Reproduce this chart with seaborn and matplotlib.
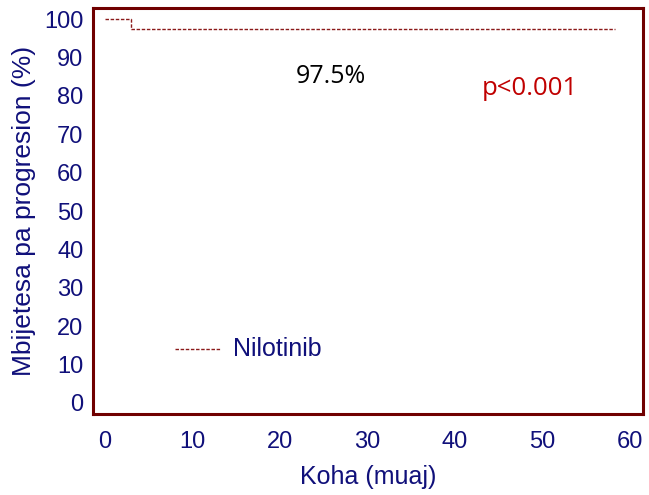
import matplotlib
matplotlib.use("Agg")
from matplotlib import pyplot as plt
import seaborn as sns
import pandas as pd

# Datos de la curva (Kaplan-Meier, escalonada)
koha = [0, 3, 58.3]
mbijetesa = [100, 97.5, 97.5]
grupo = "Nilotinib"
xticks = [0, 10, 20, 30, 40, 50, 60]
yticks = [0, 10, 20, 30, 40, 50, 60, 70, 80, 90, 100]

navy = "#10107a"
maroon = "#700000"
linecol = "#8b1a1a"

sns.set_style("white")
plt.rcParams['font.family'] = ['Liberation Sans', 'DejaVu Sans']

df = pd.DataFrame({"koha": koha, "mbijetesa": mbijetesa})

fig = plt.figure(figsize=(6.49, 4.95), dpi=100)
ax = fig.add_axes([0.1433, 0.1636, 0.8475, 0.8202])

sns.lineplot(data=df, x="koha", y="mbijetesa", ax=ax, drawstyle="steps-post",
             color=linecol, linestyle=(0, (2.5, 1.2)), linewidth=1.0)

# leyenda manual
ax.plot([8.0, 13.3], [14, 14], color=linecol, linestyle=(0, (2.5, 1.2)), linewidth=1.0)
ax.text(14.6, 14, grupo, color=navy, fontsize=18, va="center", ha="left")

ax.text(25.8, 85.0, "97.5%", color="black", fontsize=18, ha="center", va="center",
        family=["Open Sans", "DejaVu Sans"])
ax.text(48.6, 82, "p<0.001", color="#c00000", fontsize=18.5, ha="center", va="center",
        family=["Open Sans", "DejaVu Sans"])

ax.set_xlim(-1.37, 61.5)
ax.set_ylim(-2.9, 102.9)
ax.set_xticks(xticks)
ax.set_yticks(yticks)
ax.tick_params(axis="both", colors=navy, labelsize=17, length=0, pad=7)
ax.tick_params(axis="x", pad=12)
ax.set_xlabel("Koha (muaj)", color=navy, fontsize=18, labelpad=9)
ax.set_ylabel("Mbijetesa pa progresion (%)", color=navy, fontsize=19, labelpad=6)

for s in ax.spines.values():
    s.set_color(maroon)
    s.set_linewidth(2.2)
    s.set_visible(True)

fig.savefig("out.png", dpi=100)
